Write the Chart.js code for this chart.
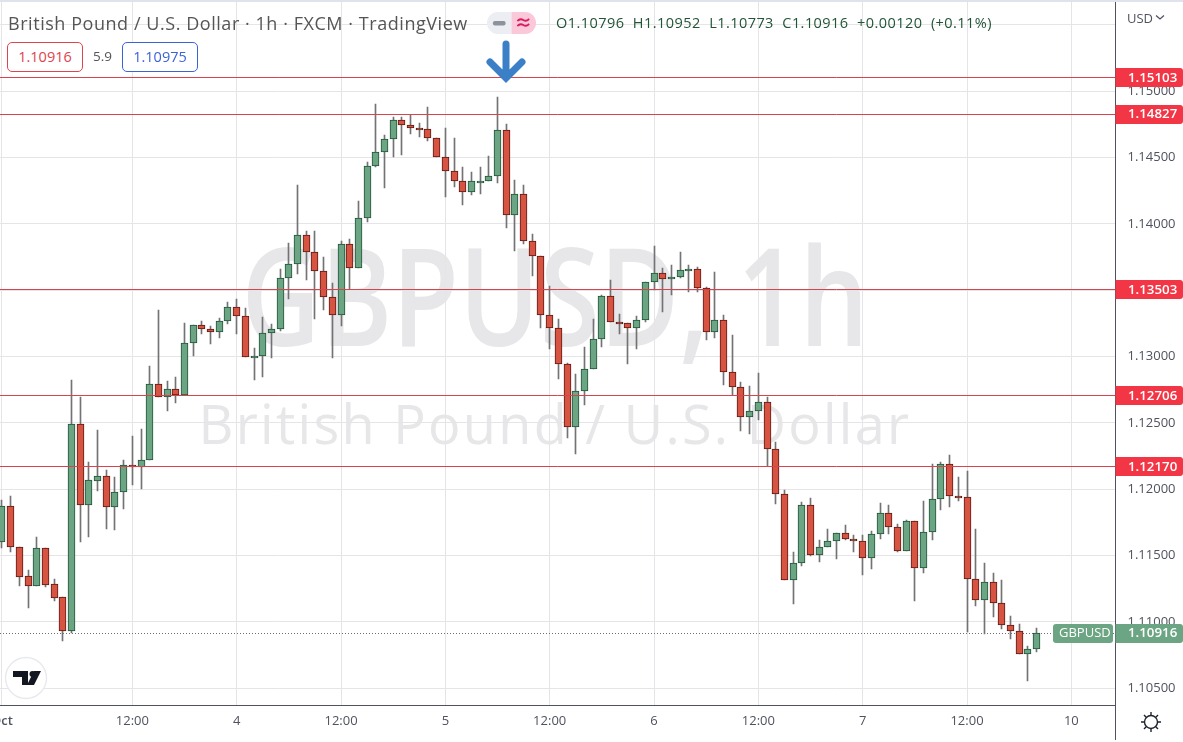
<!DOCTYPE html>
<html>
<head>
<meta charset="utf-8">
<title>GBPUSD 1h</title>
<script src="https://cdn.jsdelivr.net/npm/chart.js@4/dist/chart.umd.min.js"></script>
<style>
  html, body { margin: 0; padding: 0; background: #fff; }
  #wrap { position: relative; width: 1183px; height: 742px; overflow: hidden; font-family: "Open Sans", sans-serif; color: #50535e; }
  #wrap > * { position: absolute; }
  canvas { left: 0; top: 0; }
  .mark { color: #e7e7e9; white-space: nowrap; text-align: center; left: 0; width: 1110px; }
  #mark1 { top: 209px; font-size: 136px; line-height: 170px; font-weight: 600; transform: scaleX(0.8); }
  #mark2 { top: 385px; font-size: 54px; line-height: 76px; letter-spacing: 2.3px; }
  #topbar { left: 0; top: 0; width: 1183px; height: 2px; background: #e0e3eb; }
  #title { left: 8px; top: 10px; font-size: 18px; line-height: 26px; letter-spacing: 0.55px; color: #555; white-space: pre; }
  #ohlc { left: 556px; top: 12px; font-size: 14.5px; line-height: 22px; letter-spacing: 0.45px; color: #225437; white-space: pre; }
  .badge { top: 42px; width: 74px; height: 28px; border: 1px solid; border-radius: 5px; text-align: center; font-size: 14.5px; line-height: 28px; background: #fff; }
  #bid { left: 7px; color: #e0434d; border-color: #e0434d; }
  #ask { left: 122px; color: #3a63d6; border-color: #3a63d6; }
  #spread { left: 93px; top: 45px; font-size: 13.5px; line-height: 22px; color: #555; }
  #usd { left: 1127px; top: 9px; font-size: 13px; line-height: 18px; color: #50535e; }
  #axisEnd { left: 1115px; top: 705px; width: 1px; height: 35px; background: #50535e; }
</style>
</head>
<body>
<div id="wrap">
  <div id="mark1" class="mark">GBPUSD, 1h</div>
  <div id="mark2" class="mark">British Pound / U.S. Dollar</div>
  <canvas id="chart" width="1183" height="742"></canvas>
  <div id="topbar"></div>
  <div id="title">British Pound / U.S. Dollar · 1h · FXCM · TradingView</div>
  <svg style="left:487px;top:12px" width="49" height="22" viewBox="0 0 50 22" preserveAspectRatio="none">
    <path d="M11 0H25V22H11A11 11 0 0 1 11 0Z" fill="#eceef3"/>
    <path d="M25 0H39A11 11 0 0 1 39 22H25Z" fill="#fbc8da"/>
    <rect x="6" y="9" width="13" height="4.5" rx="2" fill="#8e929c"/>
    <path d="M31 9q3 -3 6 -1t6 -1M31 14q3 -3 6 -1t6 -1" fill="none" stroke="#d81b60" stroke-width="1.8"/>
  </svg>
  <div id="ohlc">O1.10796  H1.10952  L1.10773  C1.10916  +0.00120  (+0.11%)</div>
  <div id="bid" class="badge">1.10916</div>
  <div id="spread">5.9</div>
  <div id="ask" class="badge">1.10975</div>
  <svg style="left:482px;top:38px" width="50" height="46" viewBox="0 0 50 46">
    <path d="M24 6V39M8 24L24 40L40 24" fill="none" stroke="#3b80c6" stroke-width="7" stroke-linecap="round" stroke-linejoin="miter"/>
  </svg>
  <div id="usd">USD</div>
  <svg style="left:1155px;top:14px" width="10" height="7" viewBox="0 0 10 7">
    <path d="M1 1.5L5 5L9 1.5" fill="none" stroke="#50535e" stroke-width="1.3"/>
  </svg>
  <div id="axisEnd"></div>
  <svg style="left:4px;top:656px" width="44" height="44" viewBox="0 0 44 44">
    <circle cx="22" cy="22" r="20.5" fill="#fff" stroke="#e8e9ee" stroke-width="1.4"/>
    <path d="M9 15H24V29H18V21H9Z" fill="#131722"/>
    <circle cx="28.5" cy="18" r="3" fill="#131722"/>
    <path d="M30 15H37L30 29H23Z" fill="#131722"/>
  </svg>
  <svg style="left:1139px;top:710px" width="24" height="24" viewBox="0 0 24 24">
    <circle cx="12" cy="12" r="6.5" fill="none" stroke="#1f2330" stroke-width="1.4"/>
    <path d="M12 2V5M12 19V22M2 12H5M19 12H22M5 5L7.2 7.2M16.8 16.8L19 19M19 5L16.8 7.2M7.2 16.8L5 19" stroke="#1f2330" stroke-width="1.4" fill="none"/>
  </svg>
</div>
<script>
var opens = [1.11601,1.11872,1.11563,1.11345,1.11274,1.11556,1.11284,1.11186,1.10935,1.12490,
  1.11880,1.12065,1.12098,1.11865,1.11978,1.12181,1.12166,1.12219,1.12792,1.12694,
  1.12754,1.12709,1.13101,1.13236,1.13206,1.13184,1.13266,1.13372,1.13304,1.12995,
  1.13003,1.13176,1.13206,1.13591,1.13696,1.13915,1.13787,1.13643,1.13447,1.13316,
  1.13847,1.13666,1.14043,1.14435,1.14540,1.14638,1.14781,1.14744,1.14721,1.14714,
  1.14646,1.14503,1.14397,1.14322,1.14239,1.14318,1.14322,1.14359,1.14706,1.14065,
  1.14224,1.13869,1.13756,1.13312,1.13214,1.12942,1.12468,1.12739,1.12905,1.13131,
  1.13455,1.13259,1.13251,1.13214,1.13274,1.13560,1.13628,1.13583,1.13598,1.13649,
  1.13658,1.13515,1.13184,1.13274,1.12882,1.12769,1.12543,1.12588,1.12656,1.12302,
  1.11963,1.11314,1.11443,1.11880,1.11503,1.11563,1.11608,1.11669,1.11623,1.11608,
  1.11480,1.11661,1.11819,1.11714,1.11533,1.11759,1.11405,1.11676,1.11925,1.12189,
  1.11948,1.11940,1.11322,1.11164,1.11299,1.11141,1.10975,1.10930,1.10757,1.10796];
var highs = [1.11920,1.11950,1.11563,1.11392,1.11639,1.11556,1.11322,1.11186,1.12824,1.12696,
  1.12204,1.12447,1.12146,1.12093,1.12221,1.12402,1.12455,1.12930,1.13352,1.12817,
  1.12847,1.13254,1.13238,1.13269,1.13231,1.13291,1.13414,1.13432,1.13364,1.13065,
  1.13297,1.13244,1.13658,1.13854,1.14292,1.13947,1.13947,1.13751,1.13555,1.13869,
  1.13887,1.14173,1.14465,1.14904,1.14668,1.14804,1.14804,1.14824,1.14761,1.14879,
  1.14646,1.14721,1.14646,1.14427,1.14390,1.14427,1.14510,1.14955,1.14751,1.14329,
  1.14292,1.13922,1.13758,1.13530,1.13282,1.12952,1.12867,1.13071,1.13282,1.13462,
  1.13575,1.13319,1.13251,1.13304,1.13560,1.13832,1.13666,1.13689,1.13787,1.13689,
  1.13673,1.13523,1.13636,1.13312,1.13161,1.12807,1.12777,1.12875,1.12694,1.12355,
  1.11993,1.11525,1.11902,1.11932,1.11616,1.11699,1.11669,1.11729,1.11654,1.11654,
  1.11684,1.11895,1.11880,1.11736,1.11767,1.11759,1.11910,1.12189,1.12204,1.12257,
  1.12091,1.12136,1.11699,1.11443,1.11367,1.11314,1.11043,1.10983,1.10817,1.10952];
var lows = [1.11558,1.11530,1.11271,1.11108,1.11274,1.11266,1.11161,1.10859,1.10915,1.11605,
  1.11643,1.11990,1.11703,1.11694,1.11852,1.12033,1.12003,1.12219,1.12694,1.12593,
  1.12653,1.12709,1.13005,1.13171,1.13095,1.13143,1.13248,1.13171,1.12995,1.12824,
  1.12849,1.12992,1.13193,1.13435,1.13623,1.13578,1.13286,1.13352,1.12992,1.13231,
  1.13508,1.13666,1.14017,1.14427,1.14273,1.14507,1.14522,1.14678,1.14658,1.14628,
  1.14503,1.14206,1.14276,1.14145,1.14221,1.14228,1.14322,1.14307,1.13967,1.13799,
  1.13847,1.13610,1.13218,1.13055,1.12834,1.12389,1.12269,1.12638,1.12905,1.13075,
  1.13259,1.13173,1.12942,1.13055,1.13259,1.13500,1.13334,1.13462,1.13591,1.13485,
  1.13485,1.13128,1.13143,1.12786,1.12709,1.12442,1.12419,1.12525,1.12174,1.11892,
  1.11314,1.11134,1.11420,1.11495,1.11450,1.11563,1.11473,1.11616,1.11525,1.11352,
  1.11397,1.11623,1.11661,1.11525,1.11533,1.11156,1.11367,1.11616,1.11842,1.11865,
  1.11910,1.10922,1.11118,1.10907,1.11040,1.10945,1.10874,1.10757,1.10558,1.10773];
var closes = [1.11872,1.11563,1.11342,1.11274,1.11556,1.11279,1.11183,1.10935,1.12490,1.11880,
  1.12068,1.12098,1.11865,1.11978,1.12181,1.12166,1.12219,1.12792,1.12694,1.12754,
  1.12709,1.13101,1.13236,1.13206,1.13184,1.13266,1.13372,1.13304,1.12995,1.13003,
  1.13176,1.13206,1.13591,1.13696,1.13915,1.13787,1.13643,1.13447,1.13316,1.13847,
  1.13666,1.14043,1.14435,1.14540,1.14638,1.14781,1.14744,1.14721,1.14714,1.14646,
  1.14503,1.14397,1.14322,1.14239,1.14322,1.14322,1.14359,1.14706,1.14065,1.14224,
  1.13869,1.13756,1.13312,1.13214,1.12942,1.12468,1.12739,1.12905,1.13131,1.13455,
  1.13259,1.13251,1.13214,1.13274,1.13560,1.13628,1.13583,1.13598,1.13651,1.13658,
  1.13515,1.13184,1.13274,1.12882,1.12769,1.12543,1.12588,1.12656,1.12302,1.11963,
  1.11314,1.11443,1.11880,1.11503,1.11563,1.11608,1.11669,1.11623,1.11608,1.11480,
  1.11661,1.11819,1.11714,1.11533,1.11759,1.11405,1.11676,1.11925,1.12189,1.11948,
  1.11940,1.11322,1.11164,1.11299,1.11141,1.10975,1.10930,1.10757,1.10794,1.10916];

var levels = [1.15103, 1.14827, 1.13503, 1.12706, 1.12170];
var lastPrice = 1.10916;

var yTicks = [1.105, 1.11, 1.115, 1.12, 1.125, 1.13, 1.135, 1.14, 1.145, 1.15, 1.155];
var yTickLabels = ['1.10500', '1.11000', '1.11500', '1.12000', '1.12500', '1.13000', '1.13500', '1.14000', '1.14500', '1.15000', ''];
var xTicks = [0, 15, 27, 39, 51, 63, 75, 87, 99, 111, 123];
var xTickLabels = ['Oct', '12:00', '4', '12:00', '5', '12:00', '6', '12:00', '7', '12:00', '10'];

var xMin = -0.224, xMax = 128.08;
var upColor = '#6ba583', upBorder = '#225437';
var downColor = '#d75442', downBorder = '#5b1a13';
var wickColor = '#737375', levelColor = '#d8434d', gridColor = '#e5e5e8', axisColor = '#50535e';
var tagFont = '600 13.3px "Open Sans", sans-serif';

var bodies = [], wicks = [], bodyFill = [], bodyEdge = [];
for (var i = 0; i < opens.length; i++) {
  var up = closes[i] >= opens[i];
  bodies.push({ x: i, y: [opens[i], closes[i]] });
  wicks.push({ x: i, y: [lows[i], highs[i]] });
  bodyFill.push(up ? upColor : downColor);
  bodyEdge.push(up ? upBorder : downBorder);
}

var datasets = [];
for (var j = 0; j < levels.length; j++) {
  datasets.push({
    type: 'line', order: 0, borderColor: levelColor, borderWidth: 1, pointRadius: 0,
    data: [{ x: xMin, y: levels[j] }, { x: xMax, y: levels[j] }]
  });
}
datasets.push({
  type: 'line', order: 3, borderColor: '#6b6e78', borderWidth: 1, borderDash: [1, 2], pointRadius: 0,
  data: [{ x: xMin, y: lastPrice }, { x: xMax, y: lastPrice }]
});
datasets.push({
  type: 'bar', order: 1, grouped: false, barThickness: 7, borderWidth: 1, borderSkipped: false,
  backgroundColor: bodyFill, borderColor: bodyEdge, data: bodies
});
datasets.push({
  type: 'bar', order: 2, grouped: false, barThickness: 1, backgroundColor: wickColor, data: wicks
});

// put bars and lines on whole pixels, the way the original chart does
var snapPlugin = {
  id: 'snap',
  beforeDatasetsDraw: function(chart) {
    chart.getSortedVisibleDatasetMetas().forEach(function(meta) {
      meta.data.forEach(function(el) {
        if (meta.type === 'bar') {
          var top = Math.round(Math.min(el.y, el.base));
          var bottom = Math.round(Math.max(el.y, el.base));
          if (el.width > 2 && bottom - top < 2) bottom = top + 2;
          el.x = Math.floor(el.x) + 0.5;
          el.y = top;
          el.base = bottom;
        } else {
          el.y = Math.floor(el.y) + 0.5;
        }
      });
    });
  }
};

// price tags on the right axis
function drawTag(ctx, left, right, y, color, text, textX, font, radius) {
  ctx.fillStyle = color;
  ctx.beginPath();
  ctx.roundRect(left, Math.round(y - 9.5), right - left, 19, radius);
  ctx.fill();
  ctx.fillStyle = '#fff';
  ctx.font = font;
  ctx.textAlign = 'left';
  ctx.textBaseline = 'middle';
  ctx.fillText(text, textX, Math.round(y) + 0.5);
}

var tagPlugin = {
  id: 'tags',
  afterDraw: function(chart) {
    var ctx = chart.ctx, y = chart.scales.y, right = chart.chartArea.right;
    ctx.save();
    levels.forEach(function(v) {
      drawTag(ctx, right, 1183, y.getPixelForValue(v), '#f23645', v.toFixed(5), 1128, tagFont, [0, 3, 3, 0]);
    });
    var py = y.getPixelForValue(lastPrice);
    drawTag(ctx, 1053, 1113, py, upColor, 'GBPUSD', 1059, '13px "Open Sans", sans-serif', 3);
    drawTag(ctx, right, 1183, py, upColor, lastPrice.toFixed(5), 1128, tagFont, [0, 3, 3, 0]);
    ctx.restore();
  }
};

new Chart(document.getElementById('chart'), {
  type: 'bar',
  data: { datasets: datasets },
  plugins: [snapPlugin, tagPlugin],
  options: {
    responsive: false,
    animation: false,
    events: [],
    layout: { padding: { top: 2, left: 0, right: 0, bottom: 0 } },
    plugins: { legend: { display: false }, tooltip: { enabled: false } },
    scales: {
      x: {
        type: 'linear', offset: false, min: xMin, max: xMax,
        afterBuildTicks: function(scale) {
          scale.ticks = xTicks.map(function(v) { return { value: v }; });
        },
        afterFit: function(scale) {
          scale.height = 36.5;
          scale.paddingLeft = 0;
          scale.paddingRight = 0;
        },
        grid: { color: gridColor, drawTicks: false, offset: false },
        border: { color: axisColor },
        ticks: {
          autoSkip: false, maxRotation: 0, minRotation: 0, padding: 8, color: axisColor,
          font: function(c) {
            return { family: '"Open Sans", sans-serif', size: 13, weight: c.index === 0 ? '600' : '400' };
          },
          callback: function(value, index) { return xTickLabels[index]; }
        }
      },
      y: {
        position: 'right', min: 1.1037, max: 1.15673,
        afterBuildTicks: function(scale) {
          scale.ticks = yTicks.map(function(v) { return { value: v }; });
        },
        afterFit: function(scale) {
          scale.width = 67.5;
          scale.paddingTop = 0;
          scale.paddingBottom = 0;
        },
        grid: { color: gridColor, drawTicks: false },
        border: { color: axisColor },
        ticks: {
          padding: 12, color: axisColor,
          font: { family: '"Open Sans", sans-serif', size: 13 },
          callback: function(value, index) { return yTickLabels[index]; }
        }
      }
    }
  }
});
</script>
</body>
</html>
